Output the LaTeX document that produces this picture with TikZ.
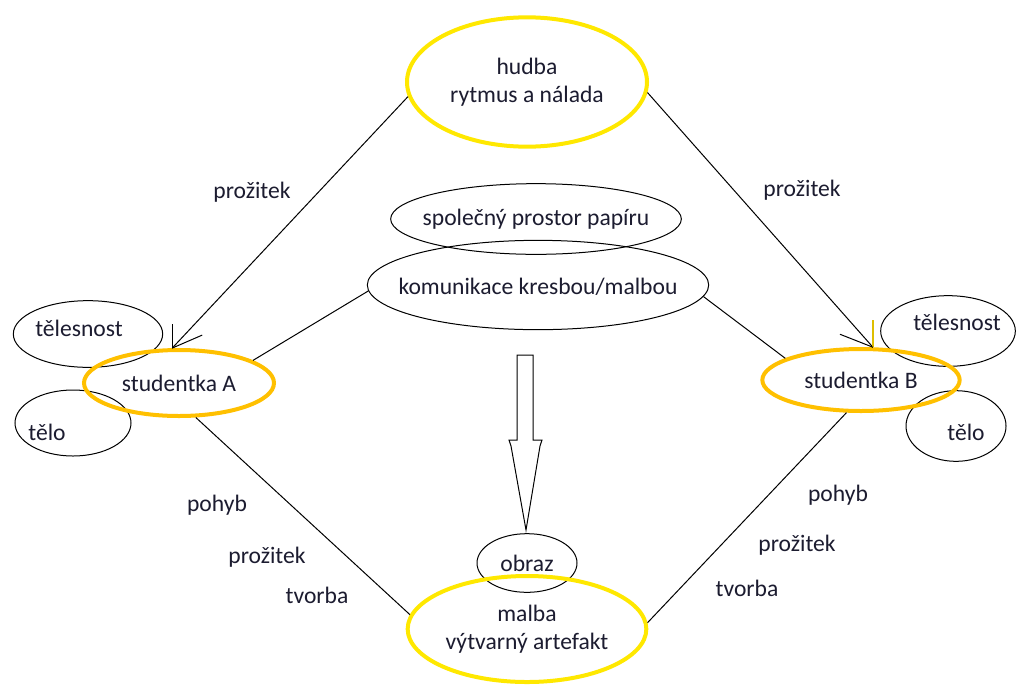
\documentclass[tikz,border=0pt]{standalone}
\usepackage{fontspec}
\setmainfont{Carlito}
\usepackage{tikz}
\usetikzlibrary{shapes.geometric}
\definecolor{ink}{RGB}{28,28,48}
\definecolor{ylw}{RGB}{255,232,0}
\definecolor{gld}{RGB}{255,192,0}
\definecolor{tick}{RGB}{222,190,0}

\begin{document}
\begin{tikzpicture}[
  x=0.75pt, y=-0.75pt,
  font=\fontsize{17.7}{21}\selectfont, text=ink,
  el/.style={draw,ellipse,inner sep=0pt,line width=0.75pt,align=center},
  sun/.style={el,draw=ylw,line width=3pt},
  gold/.style={el,draw=gld,line width=3pt},
  ln/.style={line width=0.75pt},
  lb/.style={inner sep=1pt}]

\path[use as bounding box,fill=white] (0,0) rectangle (1019,689);

% black ellipses
\node[el,minimum width=218pt,minimum height=53pt,label={[lb]center:společný prostor papíru}] (spol) at (536,219) {};
\node[el,minimum width=256pt,minimum height=67pt,label={[lb,yshift=-1.5pt]center:komunikace kresbou/malbou}] (kom) at (538,285) {};
\node[el,minimum width=112pt,minimum height=50pt,label={[lb,xshift=-6.75pt,yshift=4.5pt]center:tělesnost}] (telA) at (88,334) {};
\node[el,minimum width=87pt,minimum height=49.5pt,label={[lb,xshift=-19.5pt,yshift=-6.75pt]center:tělo}] (teloA) at (73,423) {};
\node[el,minimum width=101pt,minimum height=53pt,label={[lb,xshift=6.75pt,yshift=6.75pt]center:tělesnost}] (telB) at (948,331) {};
\node[el,minimum width=75pt,minimum height=53pt,label={[lb,xshift=7.5pt,yshift=-4.5pt]center:tělo}] (teloB) at (956,426) {};
\node[el,minimum width=75pt,minimum height=44pt] (obraz) at (527,563) {obraz};

% yellow ellipses
\node[sun,minimum width=180pt,minimum height=97pt] (hudba) at (527,82) {hudba\\rytmus a nálada};
\node[sun,minimum width=179pt,minimum height=79.5pt] (malba) at (527,629) {malba\\výtvarný artefakt};
\node[gold,minimum width=142.5pt,minimum height=49.5pt] (stA) at (179,383) {studentka A};
\node[gold,minimum width=148pt,minimum height=46.5pt] (stB) at (861,380) {studentka B};

% arrow tips
\coordinate (tipA) at (stA.101);
\coordinate (tipB) at (stB.70);
\draw[ln] (hudba.187) -- (tipA);
\draw[ln] (hudba.355) -- (tipB);
\draw[ln] (tipA) -- ++(0,-24);
\draw[ln] (tipA) -- ++(30,-13);
\draw[line width=1.5pt,tick] (tipB) -- ++(0,-27);
\draw[ln] (tipB) -- ++(-33,-13);

% plain connectors
\foreach \x/\y in {kom.182/stA.17,kom.356/stB.164,stA.296/malba.173,stB.246/malba.3}
  \draw[ln] (\x) -- (\y);

% hollow arrow
\draw[ln,line join=miter] (517,355) -- (533,355) -- (533,440) -- (542,440) -- (540,446)
  -- (526,530) -- (511,446) -- (509,440) -- (517,440) -- cycle;

% labels
\node[lb] (pr1) at (252,192) {prožitek};
\node[lb] (pr2) at (802,190) {prožitek};
\node[lb] (poA) at (217,505) {pohyb};
\node[lb] (prA) at (267,557) {prožitek};
\node[lb] (tvA) at (317,595) {tvorba};
\node[lb] (poB) at (838,495) {pohyb};
\node[lb] (prB) at (797,545) {prožitek};
\node[lb] (tvB) at (747,588) {tvorba};
\end{tikzpicture}
\end{document}
